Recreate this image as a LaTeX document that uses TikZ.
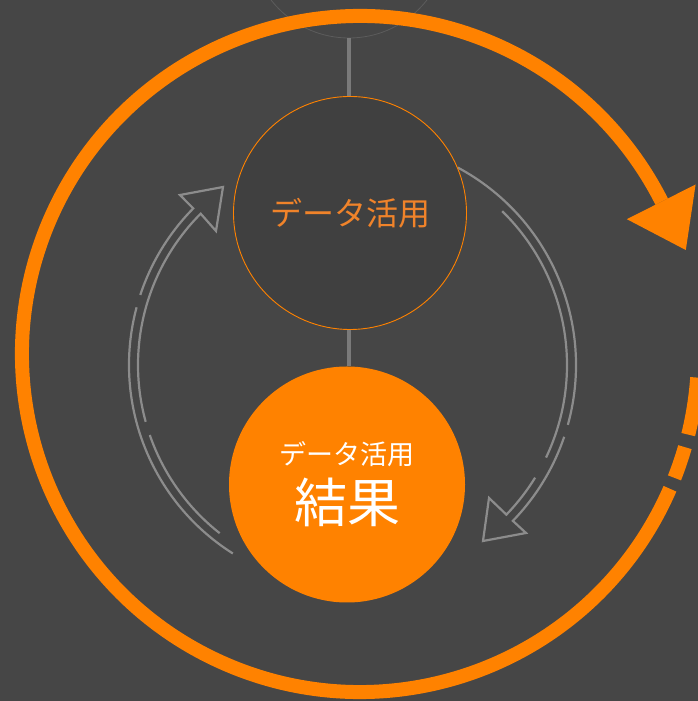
\documentclass[tikz,border=0pt]{standalone}
\usepackage{fontspec}
\newfontfamily\jp{Noto Sans CJK JP}
\usetikzlibrary{calc}
\definecolor{bg}{HTML}{464646}
\definecolor{org}{HTML}{FF8200}
\definecolor{orgtext}{HTML}{F0832A}
\definecolor{midfill}{HTML}{404040}
\definecolor{ring}{HTML}{8C8C8C}
\definecolor{conn}{HTML}{7A7A7A}
\definecolor{topring}{HTML}{5C5C5C}
\begin{document}
\begin{tikzpicture}[x=1pt,y=1pt,
  bigarc/.style={draw=org,line width=14pt,line cap=butt},
  cyclearrow/.style={draw=ring,line width=2.2pt,line join=miter},
  connector/.style={draw=conn,line width=3.6pt},
  topcircle/.style={circle,draw=topring,line width=0.8pt,minimum size=198pt,inner sep=0pt},
  midcircle/.style={circle,draw=org,line width=0.9pt,fill=midfill,minimum size=233pt,inner sep=0pt,
    text=orgtext,font=\jp\fontsize{32}{36}\selectfont},
  rescircle/.style={circle,fill=org,minimum size=236pt,inner sep=0pt,text=white,align=center,font=\jp}
]
\fill[bg] (0,0) rectangle (698,701);
\useasboundingbox (0,0) rectangle (698,701);
\clip (0,0) rectangle (698,701);

% top partial circle
\node[topcircle] (top) at (349,762) {};

% big orange cycle arrow
\coordinate (C) at (360,347);
\draw[bigarc] ($(C)+(-23.5:338)$) arc[start angle=-23.5, end angle=-333.2, radius=338];
\draw[bigarc] ($(C)+(-21.5:338)$) arc[start angle=-21.5, end angle=-16, radius=338];
\draw[bigarc] ($(C)+(-13.8:338)$) arc[start angle=-13.8, end angle=-4, radius=338];
\fill[org] ($(C)+(26.8:299)$) -- ($(C)+(26.8:376)$) -- ($(C)+(17.7:342)$) -- cycle;

% inner hollow arrows
\coordinate (I) at (352,336);
% left arrow (upwards)
\draw[cyclearrow] ($(I)+(237.7:223)$) arc[start angle=237.7, end angle=165, radius=223];
\draw[cyclearrow] ($(I)+(161.7:223)$) arc[start angle=161.7, end angle=135.4, radius=223]
  -- (180,506) -- (223,514) -- (216,470) -- ($(I)+(135:214)$)
  arc[start angle=135, end angle=195.4, radius=214];
\draw[cyclearrow] ($(I)+(199.1:214)$) arc[start angle=199.1, end angle=231.8, radius=214];
% right arrow (downwards)
\draw[cyclearrow] ($(I)+(61.8:224)$) arc[start angle=61.8, end angle=-15.5, radius=224];
\draw[cyclearrow] ($(I)+(-18.7:224)$) arc[start angle=-18.7, end angle=-44.1, radius=224]
  -- (526,168) -- (483,160) -- (489,203) -- ($(I)+(-44.1:215)$)
  arc[start angle=-44.1, end angle=-31.6, radius=215];
\draw[cyclearrow] ($(I)+(-25.5:215)$) arc[start angle=-25.5, end angle=45.7, radius=215];

% main circles
\node[midcircle] (mid) at (350,488) {データ活用};
\node[rescircle] (res) at (347,216.5)
  {{\fontsize{27}{30}\selectfont データ活用}\\[10pt]{\fontsize{53}{58}\selectfont 結果}};

% connectors
\draw[connector] (top.south) -- (top.south |- mid.north);
\draw[connector] (mid.south -| top.south) -- (top.south |- res.north);
\end{tikzpicture}
\end{document}
